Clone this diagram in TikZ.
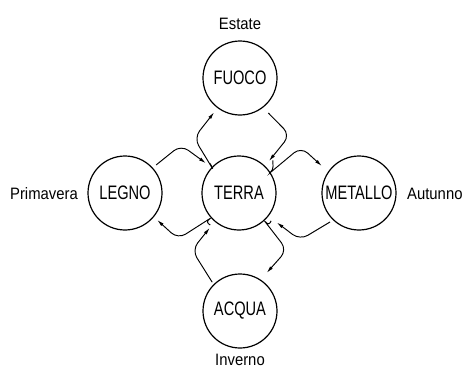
\documentclass[tikz,border=0pt]{standalone}
\usepackage{fontspec}
\newfontfamily\circfont{Liberation Sans}[FakeStretch=0.75]
\newfontfamily\labfont{Liberation Sans}[FakeStretch=0.9]
\usetikzlibrary{arrows.meta,calc}
\begin{document}
\begin{tikzpicture}[x=1pt,y=1pt,
  elem/.style={circle, draw, line width=1.2pt, minimum size=74pt, inner sep=0pt,
    font=\circfont\fontsize{19.5}{19.5}\selectfont},
  lab/.style={font=\labfont\fontsize{16.5}{16.5}\selectfont, inner sep=0pt},
  conn/.style={line width=0.95pt, rounded corners=9pt},
  arr/.style={-{Latex[length=7pt,width=3.5pt]}}]
\useasboundingbox (0,0) rectangle (469,368);
\node[elem] (fuoco) at (240,290) {FUOCO};
\node[elem] (terra) at (239,175) {TERRA};
\node[elem] (legno) at (125,175) {LEGNO};
\node[elem] (metallo) at (359,175) {METALLO};
\node[elem] (acqua) at (240,57) {ACQUA};
\node[lab, anchor=base] (estate) at (240,338) {Estate};
\node[lab, anchor=base] (inverno) at (240,3) {Inverno};
\node[lab, anchor=base east] (primavera) at (78,169) {Primavera};
\node[lab, anchor=base west] (autunno) at (407,169) {Autunno};
% LEGNO -> TERRA
\draw[conn,arr] ($(legno)+(42:42)$) -- (181,223) -- ($(terra)+(138:44.6)$);
% TERRA -> FUOCO
\draw[conn,arr] ($(terra)+(137:37)$) to[out=95,in=-59] (208,207) -- (194,230) -- ($(fuoco)+(233:43)$);
% FUOCO -> TERRA
\draw[conn,arr] ($(fuoco)+(-51:45)$) -- (290,233) -- ($(terra)+(46.8:43.9)$);
% TERRA -> METALLO
\draw[conn,arr] ($(terra)+(44:47)$) to[out=-95,in=219.8] (277,201) -- (301,221) -- ($(metallo)+(144:46)$);
% METALLO -> TERRA
\draw[conn,arr] ($(metallo)+(225:41)$) -- (300,128) -- ($(terra)+(-38:48)$);
% TERRA -> ACQUA
\draw[conn,arr] ($(terra)+(-41:42.5)$) to[out=-110,in=128] (270,140) -- (287,118) -- ($(acqua)+(55:46.6)$);
% ACQUA -> TERRA
\draw[conn,arr] ($(acqua)+(134:40)$) -- (192,118) -- ($(terra)+(230:45.5)$);
% TERRA -> LEGNO
\draw[conn,arr] ($(terra)+(228:43)$) to[out=150,in=32.6] (203,145) -- (178,129) -- ($(legno)+(-40:42)$);
\end{tikzpicture}
\end{document}
